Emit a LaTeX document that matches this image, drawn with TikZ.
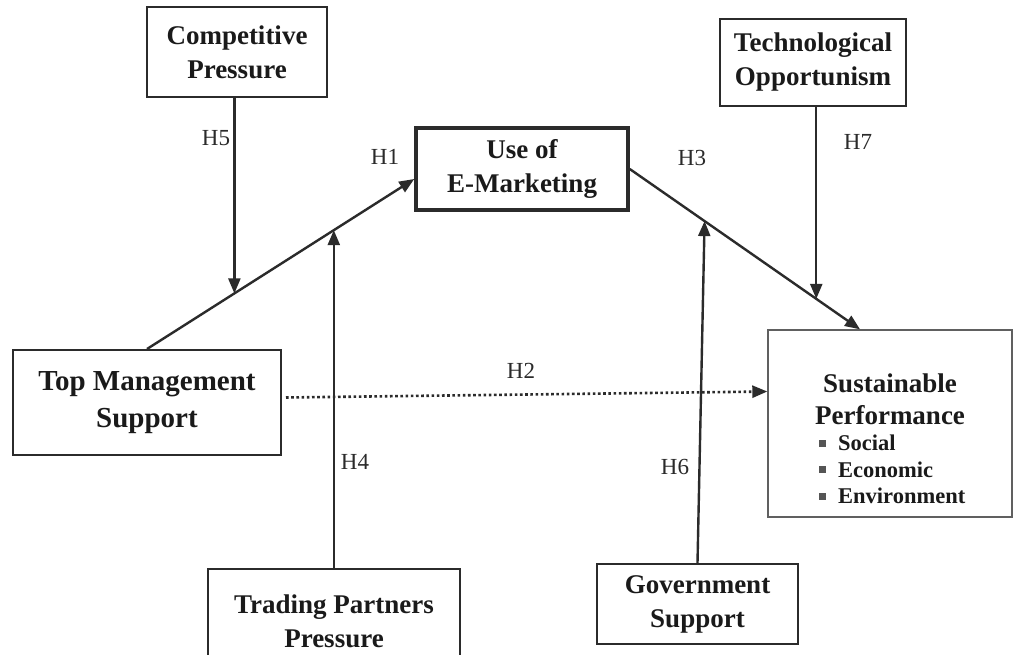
\documentclass[tikz,border=0pt]{standalone}
\usepackage{fontspec}
\setmainfont{Liberation Serif}
\usetikzlibrary{arrows.meta,calc}
\definecolor{ink}{HTML}{2B2B2B}
\definecolor{txt}{HTML}{1A1A1A}
\begin{document}
\begin{tikzpicture}[x=1pt,y=-1pt,
  box/.style={draw=ink,line width=2pt,fill=white,inner sep=0pt,align=center,
    text=txt,font=\bfseries\fontsize{27}{34}\selectfont},
  conn/.style={draw=ink,line width=2.4pt,-{Triangle[length=15pt,width=12pt]}},
  dotconn/.style={draw=ink,line width=2.6pt,dash pattern=on 2.6pt off 2.6pt,
    -{Triangle[length=15pt,width=12pt]}},
  lab/.style={font=\fontsize{23}{26}\selectfont,text=ink},
  item/.style={anchor=west,inner sep=0pt,text=txt,font=\bfseries\fontsize{22.5}{26}\selectfont},
  bul/.style={fill=ink!80,draw=none}]
\clip (0,0) rectangle (1018,654);
\fill[white] (0,0) rectangle (1018,654);

% boxes
\node[box,minimum width=180pt,minimum height=90pt] (cp) at (237,52) {Competitive\\Pressure};
\node[box,line width=3.5pt,minimum width=212pt,minimum height=82pt] (uem) at (522,169) {Use of\\E-Marketing};
\node[box,minimum width=186pt,minimum height=87pt] (to) at (813,62.5) {Technological\\Opportunism};
\node[box,minimum width=268pt,minimum height=105pt,font=\bfseries\fontsize{29}{37}\selectfont] (tms) at (147,402.5) {Top Management\\Support};
\node[box,draw=ink!75,line width=1.4pt,minimum width=244pt,minimum height=187pt] (sp) at (890,423.5) {};
\node[box,minimum width=252pt,minimum height=104pt] (tpp) at (334,621) {Trading Partners\\Pressure};
\node[box,minimum width=201pt,minimum height=80pt] (gs) at (697.5,604) {Government\\Support};

% contents of sustainable performance
\node[inner sep=0pt,align=center,text=txt,font=\bfseries\fontsize{27}{32}\selectfont] (spt) at (890,399) {Sustainable\\Performance};
\node[item] (i1) at (838,443) {Social};
\node[item] (i2) at (838,469.5) {Economic};
\node[item] (i3) at (838,496) {Environment};
\foreach \n in {i1,i2,i3}{\fill[bul] ($(\n.west)+(-19.5,-3.5)$) rectangle ($(\n.west)+(-12.5,3.5)$);}

% main paths
\coordinate (h1s) at (tms.north);
\coordinate (h1e) at ($(uem.west)+(0,10)$);
\coordinate (h3s) at (uem.east);
\coordinate (h3e) at ($(sp.north)+(-30,0)$);
\draw[conn] (h1s) -- (h1e);
\draw[conn] (h3s) -- (h3e);
\draw[dotconn] ($(tms.east)+(4,-5)$) -- ($(sp.west)+(0,-32)$);

% moderating paths
\coordinate (m5) at ($(h1s)!0.327!(h1e)$);
\coordinate (m4) at ($(h1s)!0.699!(h1e)$);
\coordinate (m6) at ($(h3s)!0.325!(h3e)$);
\coordinate (m7) at ($(h3s)!0.81!(h3e)$);
\draw[conn] (cp.south -| m5) -- (m5);
\draw[conn] (tpp.north -| m4) -- (m4);
\draw[conn] (gs.north) -- (m6);
\draw[conn] (to.south -| m7) -- (m7);

% labels
\node[lab] (l5) at (216,138) {H5};
\node[lab] (l1) at (385,157) {H1};
\node[lab] (l3) at (692,158) {H3};
\node[lab] (l7) at (858,142) {H7};
\node[lab] (l2) at (521,371) {H2};
\node[lab] (l4) at (355,462) {H4};
\node[lab] (l6) at (675,467) {H6};
\end{tikzpicture}
\end{document}
